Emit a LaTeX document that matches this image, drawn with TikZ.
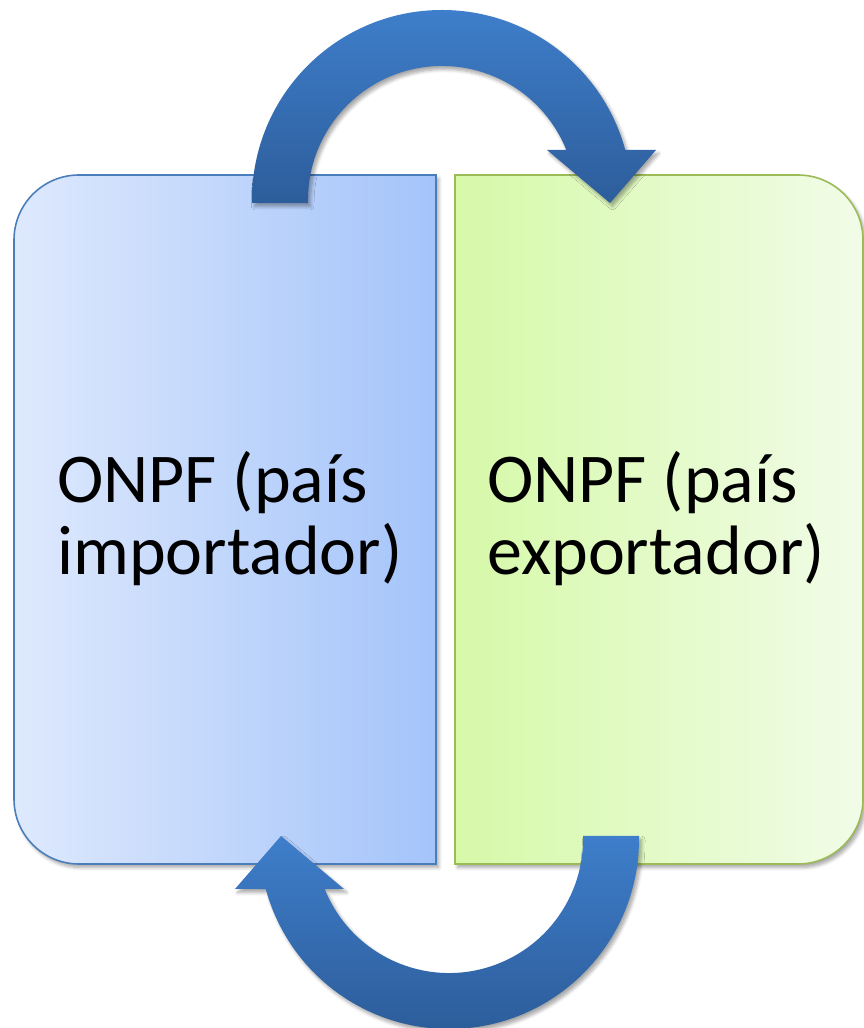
\documentclass[tikz,border=0pt]{standalone}
\usepackage{fontspec}
\setmainfont{Carlito}
\usetikzlibrary{shadows.blur}
\definecolor{impL}{RGB}{222,233,253}
\definecolor{impR}{RGB}{164,196,250}
\definecolor{impB}{RGB}{74,126,187}
\definecolor{expL}{RGB}{214,249,168}
\definecolor{expR}{RGB}{241,252,232}
\definecolor{expB}{RGB}{155,187,89}
\definecolor{arrL}{RGB}{62,126,202}
\definecolor{arrD}{RGB}{45,93,155}
\begin{document}
\begin{tikzpicture}[x=0.02cm,y=0.02cm,
  boxshadow/.style={blur shadow={shadow xshift=1.5pt,shadow yshift=-2pt,shadow blur steps=6,shadow opacity=35}},
  impbox/.style={draw=impB, line width=0.9pt, left color=impL, right color=impR, boxshadow},
  expbox/.style={draw=expB, line width=0.9pt, left color=expL, right color=expR, boxshadow},
  bigarrow/.style={top color=arrL, bottom color=arrD, boxshadow},
  txt/.style={inner sep=0pt, anchor=base west, font=\fontsize{39.8pt}{40.8pt}\selectfont}]
\useasboundingbox (0,0) rectangle (864,1028);
% boxes
\path[impbox] (436,853) -- (436,164) -- (79,164) arc[start angle=270,end angle=180,radius=65]
  -- (14,788) arc[start angle=180,end angle=90,radius=65] -- cycle;
\path[expbox] (455,853) -- (455,164) -- (798,164) arc[start angle=270,end angle=360,radius=65]
  -- (863,788) arc[start angle=0,end angle=90,radius=65] -- cycle;
% top arrow (importador -> exportador)
\path[bigarrow] (252,825) -- (252,828) arc[start angle=180,end angle=15.26,radius=190]
  -- (656,878) -- (610,825) -- (547,878) -- (566.3,878)
  arc[start angle=21.9,end angle=180,radius=134] -- (308,825) -- cycle;
% bottom arrow (exportador -> importador)
\path[bigarrow] (639,192) -- (639,189) arc[start angle=0,end angle=-164.74,radius=190]
  -- (235,139) -- (281,192) -- (344,139) -- (324.7,139)
  arc[start angle=-158.1,end angle=0,radius=134] -- (583,192) -- cycle;
% texts
\node[txt] (imp) at (57,525) {\vtop{\hbox{ONPF (país}\hbox{importador)}}};
\node[txt] (exp) at (487,525) {\vtop{\hbox{ONPF (país}\hbox{exportador)}}};
\end{tikzpicture}
\end{document}
